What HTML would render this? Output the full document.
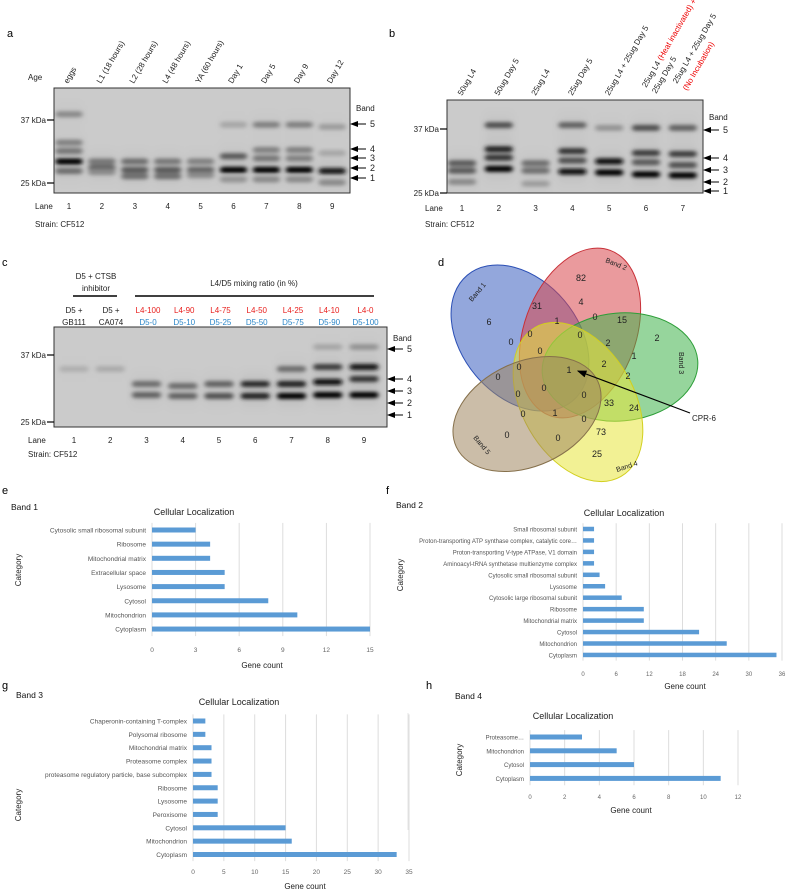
<!DOCTYPE html>
<html><head><meta charset="utf-8"><style>
html,body{margin:0;padding:0;background:#fff;}
svg{display:block;font-family:"Liberation Sans",sans-serif;}
</style></head><body>
<svg id="fig" width="790" height="890" viewBox="0 0 790 890">
<defs>
<filter id="blur" x="-20%" y="-200%" width="140%" height="500%"><feGaussianBlur stdDeviation="2.4 1.8"/></filter>
<filter id="smear" x="-20%" y="-20%" width="140%" height="140%"><feGaussianBlur stdDeviation="4 6"/></filter>
<marker id="ah" markerWidth="8" markerHeight="8" refX="7" refY="4" orient="auto"><path d="M0,1 L8,4 L0,7 z" fill="#000"/></marker>
</defs>
<g id="root"></g>
</svg>
<script>
// ---- bar chart data ----
const eCats=["Cytosolic small ribosomal subunit","Ribosome","Mitochondrial matrix","Extracellular space","Lysosome","Cytosol","Mitochondrion","Cytoplasm"];
const eVals=[3,4,4,5,5,8,10,15];
const eTicks=[0,3,6,9,12,15];
const fCats=["Small ribosomal subunit","Proton-transporting ATP synthase complex, catalytic core…","Proton-transporting V-type ATPase, V1 domain","Aminoacyl-tRNA synthetase multienzyme complex","Cytosolic small ribosomal subunit","Lysosome","Cytosolic large ribosomal subunit","Ribosome","Mitochondrial matrix","Cytosol","Mitochondrion","Cytoplasm"];
const fVals=[2,2,2,2,3,4,7,11,11,21,26,35];
const fTicks=[0,6,12,18,24,30,36];
const gCats=["Chaperonin-containing T-complex","Polysomal ribosome","Mitochondrial matrix","Proteasome complex","proteasome regulatory particle, base subcomplex","Ribosome","Lysosome","Peroxisome","Cytosol","Mitochondrion","Cytoplasm"];
const gVals=[2,2,3,3,3,4,4,4,15,16,33];
const gTicks=[0,5,10,15,20,25,30,35];
const hCats=["Proteasome…","Mitochondrion","Cytosol","Cytoplasm"];
const hVals=[3,5,6,11];
const hTicks=[0,2,4,6,8,10,12];
// ---- gel band data: [lane, position 0..1 from top of gel, darkness 0..1] ----
const gelA=[[1,.25,.3],[1,.52,.35],[1,.6,.4],[1,.7,1],[1,.79,.45],
[2,.7,.4],[2,.76,.5],[2,.8,.3],[3,.7,.45],[3,.78,.55],[3,.84,.45],[4,.7,.4],[4,.78,.55],[4,.84,.45],[5,.7,.35],[5,.78,.5],[5,.83,.3],
[6,.35,.15],[6,.65,.55],[6,.78,1],[6,.87,.25],[7,.35,.35],[7,.59,.35],[7,.67,.4],[7,.78,1],[7,.87,.3],[8,.35,.35],[8,.59,.35],[8,.67,.35],[8,.78,1],[8,.87,.3],[9,.37,.2],[9,.62,.15],[9,.79,.9],[9,.9,.3]];
const gelB=[[1,.68,.55],[1,.76,.55],[1,.88,.3],[2,.27,.6],[2,.53,.85],[2,.62,.75],[2,.74,1],[3,.68,.45],[3,.76,.45],[3,.9,.2],
[4,.27,.5],[4,.55,.75],[4,.65,.6],[4,.77,.95],[5,.3,.25],[5,.66,.95],[5,.78,1],[6,.3,.6],[6,.57,.7],[6,.67,.55],[6,.8,1],[7,.3,.5],[7,.58,.7],[7,.7,.6],[7,.81,1]];
const gelC=[[1,.42,.1],[2,.42,.12],[3,.57,.45],[3,.68,.5],[4,.59,.45],[4,.69,.5],[5,.57,.5],[5,.69,.6],[6,.57,.8],[6,.69,.85],
[7,.42,.45],[7,.57,.85],[7,.69,1],[8,.2,.15],[8,.4,.7],[8,.55,.95],[8,.68,1],[9,.2,.25],[9,.4,.9],[9,.52,.75],[9,.68,1]];

const NS="http://www.w3.org/2000/svg";
const root=document.getElementById('root');
function mk(tag,attrs,parent,txt){const e=document.createElementNS(NS,tag);for(const k in attrs)e.setAttribute(k,attrs[k]);if(txt!==undefined)e.textContent=txt;(parent||root).appendChild(e);return e;}
function T(x,y,s,size,opt){opt=opt||{};const e=mk('text',{x:x,y:y,'font-size':size||9,fill:opt.fill||'#222','text-anchor':opt.anchor||'start'},opt.parent,s);if(opt.rot!==undefined)e.setAttribute('transform','rotate('+opt.rot+' '+x+' '+y+')');if(opt.w)e.setAttribute('font-weight',opt.w);return e;}

function plabel(x,y,s){const t=T(x,y,s,11,{fill:'#000'});}

// ---------- gel ----------
function gel(name,x0,y0,w,h,lane1,laneStep,nl,bands,bw){
 const g=mk('g',{});
 
 
 mk('rect',{x:x0,y:y0,width:w,height:h,fill:'#cbcbcb'},g);
 const cp='clip-'+name;
 const cpe=mk('clipPath',{id:cp},g);mk('rect',{x:x0,y:y0,width:w,height:h},cpe);
 const inner=mk('g',{'clip-path':'url(#'+cp+')'},g);
 const sm=mk('g',{filter:'url(#smear)'},inner);
 bands.forEach(b=>{const cx=lane1+(b[0]-1)*laneStep;const y=y0+b[1]*h;
  mk('rect',{x:cx-bw/2,y:y-9,width:bw,height:18,fill:'#000','fill-opacity':0.06*b[2]},sm);});
 const bg=mk('g',{filter:'url(#blur)'},inner);
 bands.forEach(b=>{const cx=lane1+(b[0]-1)*laneStep;const y=y0+b[1]*h;const v=Math.round(195-190*b[2]);
  const r=mk('rect',{x:cx-bw/2,y:y-3,width:bw,height:6,rx:3,fill:'rgb('+v+','+v+','+v+')'},bg);
  
  });
 mk('rect',{x:x0,y:y0,width:w,height:h,fill:'none',stroke:'#333','stroke-width':1},g);
 return g;
}
function kda(x,y,s){T(x-8,y+3,s,8,{anchor:'end'});mk('line',{x1:x-7,y1:y,x2:x,y2:y,stroke:'#000','stroke-width':1.2});}
function bandArrows(x,ys,labelY){T(x+6,labelY,'Band',8);ys.forEach((y,i)=>{mk('line',{x1:x+16,y1:y,x2:x+1,y2:y,stroke:'#000','stroke-width':1,'marker-end':'url(#ah)'});T(x+20,y+3,String(5-i),9);});}
function laneRow(xLabel,y,lane1,step,n){T(xLabel,y,'Lane',8);for(let i=0;i<n;i++)T(lane1+i*step,y,String(i+1),8,{anchor:'middle'});}

// Panel a
plabel(7,37,'a');
T(28,80,'Age',8);
const aLabs=["eggs","L1 (18 hours)","L2 (28 hours)","L4 (48 hours)","YA (60 hours)","Day 1","Day 5","Day 9","Day 12"];
aLabs.forEach((s,i)=>T(68+i*32.9,84,s,8,{rot:-60}));
gel('gel-a',54,88,296,105,69,32.9,9,gelA,27);
kda(54,120,'37 kDa');kda(54,183,'25 kDa');
bandArrows(350,[124,149,158,168,178],111);
laneRow(35,209,69,32.9,9);
T(35,227,'Strain: CF512',8);

// Panel b
plabel(389,37,'b');
const bLabs=[["50ug L4"],["50ug Day 5"],["25ug L4"],["25ug Day 5"],["25ug L4 + 25ug Day 5"]];
bLabs.forEach((s,i)=>T(462+i*36.8,96,s[0],8,{rot:-60}));
(function(){const x=683-36.8,y=88;const t=T(x,y,'',8,{rot:-60});mk('tspan',{},t,'25ug L4 ');mk('tspan',{fill:'#e00'},t,'(Heat inactivated) +');T(x+10,y+6,'25ug Day 5',8,{rot:-60});})();
(function(){const x=683,y=88;T(x-6,y-4,'25ug L4 + 25ug Day 5',8,{rot:-60});T(x+4,y+3,'(No Incubation)',8,{rot:-60,fill:'#e00'});})();
gel('gel-b',447,100,256,93,462,36.8,7,gelB,28);
kda(447,129,'37 kDa');kda(447,193,'25 kDa');
bandArrows(703,[130,158,170,182,191],120);
laneRow(425,211,462,36.8,7);
T(425,227,'Strain: CF512',8);

// Panel c
plabel(2,266,'c');
T(96,279,'D5 + CTSB',8,{anchor:'middle'});T(96,291,'inhibitor',8,{anchor:'middle'});
mk('line',{x1:73,y1:296,x2:117,y2:296,stroke:'#000','stroke-width':1.5});
T(254,286,'L4/D5 mixing ratio (in %)',8,{anchor:'middle'});
mk('line',{x1:135,y1:296,x2:374,y2:296,stroke:'#000','stroke-width':1.5});
T(74,313,'D5 +',8,{anchor:'middle'});T(74,325,'GB111',8,{anchor:'middle'});
T(111,313,'D5 +',8,{anchor:'middle'});T(111,325,'CA074',8,{anchor:'middle'});
const cTop=["L4-100","L4-90","L4-75","L4-50","L4-25","L4-10","L4-0"];
const cBot=["D5-0","D5-10","D5-25","D5-50","D5-75","D5-90","D5-100"];
cTop.forEach((s,i)=>{T(148+i*36.25,313,s,8,{anchor:'middle',fill:'#e8201e'});T(148+i*36.25,325,cBot[i],8,{anchor:'middle',fill:'#2c87c8'});});
gel('gel-c',54,327,333,100,74,36.25,9,gelC,29);
kda(54,355,'37 kDa');kda(54,422,'25 kDa');
bandArrows(387,[349,379,391,403,415],341);
laneRow(28,443,74,36.25,9);
T(28,457,'Strain: CF512',8);

// Panel d venn
plabel(438,266,'d');
const vg=mk('g',{});
const ells=[["venn-band-1",520,338,58,82,-40,'#3b5ec0','#2b4fb5'],["venn-band-2",580,333,56,88,20,'#d9474c','#c83038'],
["venn-band-3",620,367,78,54,-5,'#3fb34a','#2d9e38'],["venn-band-4",578,402,56,86,-30,'#e8e63c','#d2cf1e'],["venn-band-5",527,414,78,52,-25,'#a08660','#86704b']];
ells.forEach(e=>{const el=mk('ellipse',{cx:e[1],cy:e[2],rx:e[3],ry:e[4],transform:'rotate('+e[5]+' '+e[1]+' '+e[2]+')',fill:e[6],'fill-opacity':0.55,stroke:e[7],'stroke-width':1},vg);});
const vnums=[["82",581,281],["31",537,309],["4",581,305],["6",489,325],["0",595,320],["15",622,323],["1",557,324],["2",657,341],["0",511,345],["0",530,337],["0",580,338],["0",540,354],["2",608,346],["1",634,359],["0",519,370],["2",604,367],["1",569,373],["0",498,380],["2",628,379],["0",518,397],["0",544,391],["0",584,398],["33",609,406],["24",634,411],["0",523,417],["1",555,416],["0",584,422],["73",601,435],["0",507,438],["0",558,441],["25",597,457]];
vnums.forEach(n=>T(n[1],n[2],n[0],9,{anchor:'middle',parent:vg}));
T(605,262,'Band 2',7,{rot:22,parent:vg});T(472,302,'Band 1',7,{rot:-50,parent:vg});
T(679,352,'Band 3',7,{rot:90,parent:vg});T(617,472,'Band 4',7,{rot:-18,parent:vg});T(473,438,'Band 5',7,{rot:50,parent:vg});
mk('line',{x1:690,y1:413,x2:578,y2:371,stroke:'#000','stroke-width':1.2,'marker-end':'url(#ah)'},vg);
T(692,421,'CPR-6',8,{parent:vg});

// ---------- bar charts ----------
function barChart(o){
 const g=mk('g',{});
 
 
 const xmax=o.ticks[o.ticks.length-1];
 const sx=v=>o.x0+(v/xmax)*(o.x1-o.x0);
 const sy=i=>o.yTop+i*o.step;
 const gTop=sy(0)-o.step/2, gBot=sy(o.cats.length-1)+o.step/2;
 o.ticks.forEach(t=>{mk('line',{x1:sx(t),y1:gTop,x2:sx(t),y2:gBot,stroke:'#ddd','stroke-width':1},g);
  const tl=T(sx(t),o.tickY,String(t),o.fs,{anchor:'middle',fill:'#666',parent:g});});
 o.cats.forEach((c,i)=>{const cl=T(o.x0-6,sy(i)+2.5,c,o.fs,{anchor:'end',fill:'#555',parent:g});
  const r=mk('rect',{x:sx(0),y:sy(i)-o.bh/2,width:sx(o.vals[i])-sx(0),height:o.bh,fill:'#5b9bd5'},g);
  
  });
 const tt=T(o.titleX,o.titleY,'Cellular Localization',9,{anchor:'middle',parent:g});
 const xt=T(o.xtX,o.xtY,'Gene count',8,{anchor:'middle',parent:g});
 const yt=T(o.ytX,o.ytY,'Category',8,{anchor:'middle',rot:-90,parent:g});
 T(o.bandX,o.bandY,o.band,8.5,{fill:'#111',parent:g});
}
plabel(2,494,'e');
barChart({name:'chart-band-1',cats:eCats,vals:eVals,ticks:eTicks,x0:152,x1:370,yTop:530,step:14.15,bh:5,tickY:652,fs:6.5,titleX:194,titleY:515,xtX:262,xtY:668,ytX:21,ytY:570,band:'Band 1',bandX:11,bandY:510});
plabel(386,494,'f');
barChart({name:'chart-band-2',cats:fCats,vals:fVals,ticks:fTicks,x0:583,x1:782,yTop:529,step:11.45,bh:4.5,tickY:676,fs:6,titleX:624,titleY:516,xtX:685,xtY:689,ytX:403,ytY:575,band:'Band 2',bandX:396,bandY:508});
plabel(2,689,'g');
barChart({name:'chart-band-3',cats:gCats,vals:gVals,ticks:gTicks,x0:193,x1:409,yTop:721,step:13.35,bh:5,tickY:874,fs:6.5,titleX:239,titleY:705,xtX:305,xtY:889,ytX:21,ytY:805,band:'Band 3',bandX:16,bandY:698});
plabel(426,689,'h');
mk('line',{x1:408,y1:713,x2:408,y2:830,stroke:'#e4e4e4','stroke-width':1});
barChart({name:'chart-band-4',cats:hCats,vals:hVals,ticks:hTicks,x0:530,x1:738,yTop:737,step:13.8,bh:5,tickY:799,fs:6,titleX:573,titleY:719,xtX:631,xtY:813,ytX:462,ytY:760,band:'Band 4',bandX:455,bandY:699});
</script>
</body></html>
